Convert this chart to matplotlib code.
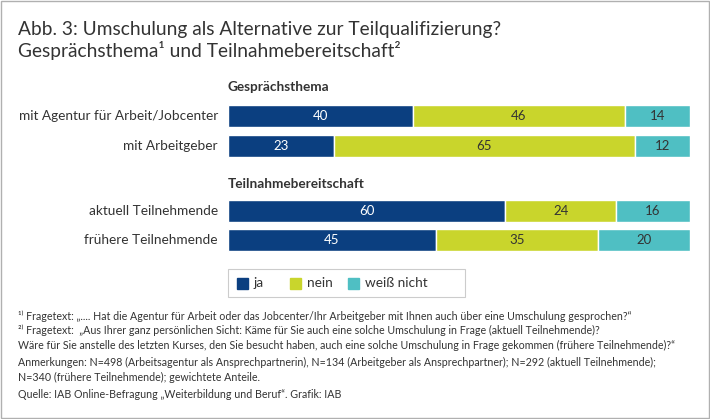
import matplotlib.pyplot as plt
from matplotlib.patches import Rectangle

plt.rcParams['font.family'] = ['Lato', 'DejaVu Sans']

categories = ["mit Agentur für Arbeit/Jobcenter", "mit Arbeitgeber",
              "aktuell Teilnehmende", "frühere Teilnehmende"]
ja = [40, 23, 60, 45]
nein = [46, 65, 24, 35]
weiss = [14, 12, 16, 20]
series_names = ["ja", "nein", "weiß nicht"]
colors = ["#0b3f80", "#c9d52c", "#4fbfc3"]

W, H = 710, 419
fig = plt.figure(figsize=(W / 100, H / 100), dpi=100)
fig.patches.append(Rectangle((0.002, 0.002), 0.996, 0.996, transform=fig.transFigure,
                             fill=False, ec="#b0b0b0", lw=1))

# axes in pixel terms: x 228..690, y 75..255
ax = fig.add_axes([228 / W, 1 - 255 / H, 462 / W, 180 / H])
ax.set_xlim(0, 100)
ax.set_ylim(255, 75)
ax.axis("off")
ypos = [116, 146, 211, 240]
left = [0] * 4
for vals, col, name in zip([ja, nein, weiss], colors, series_names):
    ax.barh(ypos, vals, left=left, height=22, color=col, ec="white", lw=1)
    for y, v, l in zip(ypos, vals, left):
        ax.text(l + v / 2, y, str(v), ha="center", va="center", fontsize=9.5,
                color="white" if col == colors[0] else "#333333")
    left = [a + b for a, b in zip(left, vals)]
for y, c in zip(ypos, categories):
    ax.text(-2.2, y, c, ha="right", va="center", fontsize=9.8, color="#333333")
ax.text(0, 87, "Gesprächsthema", ha="left", va="center", fontsize=9.8, weight="bold", color="#333333")
ax.text(0, 184, "Teilnahmebereitschaft", ha="left", va="center", fontsize=9.8, weight="bold", color="#333333")

# legend box
fig.patches.append(Rectangle((228 / W, 1 - 297 / H), 237 / W, 28 / H, transform=fig.transFigure,
                             fill=False, ec="#cccccc", lw=0.8))
for x, col, name in zip([237, 290, 348], colors, series_names):
    fig.patches.append(Rectangle((x / W, 1 - 289 / H), 11 / W, 11 / H,
                                 transform=fig.transFigure, color=col))
    fig.text((x + 17) / W, 1 - 283 / H, name, ha="left", va="center", fontsize=9.8, color="#333333")

fig.text(18 / W, 1 - 30 / H, "Abb. 3: Umschulung als Alternative zur Teilqualifizierung?",
         fontsize=13.8, va="center", color="#333333")
fig.text(18 / W, 1 - 51 / H, "Gesprächsthema¹ und Teilnahmebereitschaft²",
         fontsize=13.8, va="center", color="#333333")

notes = [
    (316, "¹⁾ Fragetext: „.... Hat die Agentur für Arbeit oder das Jobcenter/Ihr Arbeitgeber mit Ihnen auch über eine Umschulung gesprochen?“"),
    (330, "²⁾ Fragetext:  „Aus Ihrer ganz persönlichen Sicht: Käme für Sie auch eine solche Umschulung in Frage (aktuell Teilnehmende)?"),
    (345, "Wäre für Sie anstelle des letzten Kurses, den Sie besucht haben, auch eine solche Umschulung in Frage gekommen (frühere Teilnehmende)?“"),
    (362, "Anmerkungen: N=498 (Arbeitsagentur als Ansprechpartnerin), N=134 (Arbeitgeber als Ansprechpartner); N=292 (aktuell Teilnehmende);"),
    (377, "N=340 (frühere Teilnehmende); gewichtete Anteile."),
    (394, "Quelle: IAB Online-Befragung „Weiterbildung und Beruf“. Grafik: IAB"),
]
for y, t in notes:
    fig.text(18 / W, 1 - y / H, t, fontsize=7.7, va="center", color="#333333")

fig.savefig("out.png", dpi=100)
